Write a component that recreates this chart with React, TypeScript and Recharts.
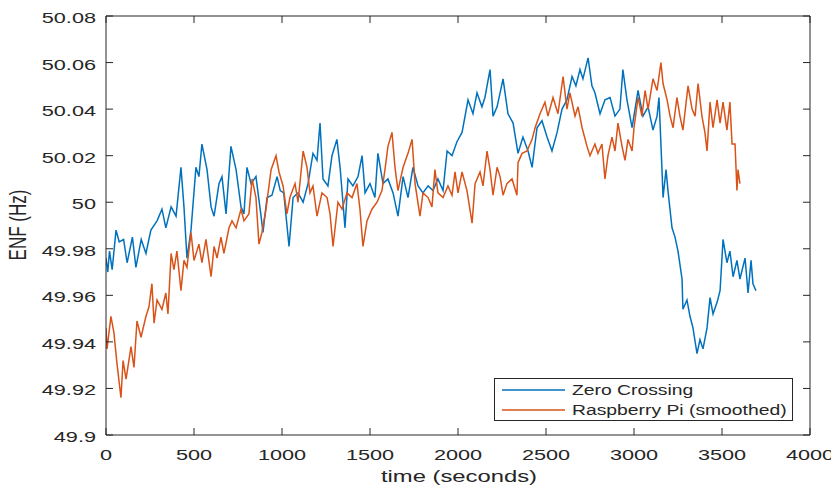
import React from "react";
import { LineChart, Line, XAxis, YAxis, Legend } from "recharts";

const zcTimes = [0, 10, 20, 35, 57, 75, 100, 120, 150, 170, 200, 227, 255, 290, 318, 340, 370, 398, 426, 443, 460, 483, 511, 528, 545, 574, 597, 614, 642, 659, 682, 710, 739, 767, 784, 801, 824, 852, 881, 892, 915, 943, 972, 990, 1010, 1040, 1063, 1091, 1120, 1148, 1176, 1199, 1216, 1233, 1261, 1284, 1312, 1330, 1358, 1375, 1403, 1432, 1455, 1472, 1500, 1528, 1545, 1574, 1602, 1631, 1659, 1688, 1716, 1744, 1773, 1801, 1830, 1858, 1886, 1915, 1938, 1966, 1994, 2023, 2057, 2085, 2108, 2136, 2153, 2182, 2199, 2222, 2256, 2284, 2313, 2341, 2369, 2398, 2421, 2449, 2477, 2506, 2534, 2563, 2591, 2619, 2648, 2670, 2693, 2710, 2739, 2761, 2778, 2807, 2835, 2864, 2892, 2920, 2937, 2960, 2989, 3023, 3051, 3080, 3108, 3131, 3142, 3159, 3165, 3182, 3193, 3216, 3233, 3250, 3273, 3278, 3301, 3318, 3335, 3358, 3375, 3392, 3415, 3432, 3449, 3472, 3489, 3506, 3528, 3545, 3563, 3585, 3602, 3631, 3648, 3665, 3676, 3693];
const zcValues = [49.976, 49.97, 49.979, 49.971, 49.988, 49.983, 49.984, 49.974, 49.985, 49.972, 49.984, 49.978, 49.988, 49.992, 49.997, 49.989, 49.998, 49.994, 50.015, 49.998, 49.976, 49.988, 50.015, 50.011, 50.025, 50.014, 49.998, 49.994, 50.008, 50.011, 49.995, 50.024, 50.014, 49.998, 49.995, 50.015, 50.008, 50.011, 49.994, 49.987, 50.002, 50.003, 50.011, 50.005, 50.004, 49.981, 50.002, 50.004, 50.0, 50.008, 50.021, 50.018, 50.034, 50.01, 50.007, 50.02, 50.027, 50.015, 49.989, 50.01, 50.007, 50.011, 50.02, 50.004, 50.008, 50.002, 50.021, 50.008, 50.01, 50.004, 49.994, 50.011, 50.002, 50.015, 50.007, 50.004, 50.007, 50.005, 50.01, 50.005, 50.022, 50.02, 50.026, 50.03, 50.044, 50.038, 50.047, 50.041, 50.045, 50.057, 50.037, 50.041, 50.053, 50.038, 50.034, 50.021, 50.028, 50.022, 50.015, 50.032, 50.035, 50.028, 50.022, 50.03, 50.04, 50.044, 50.054, 50.05, 50.057, 50.053, 50.062, 50.05, 50.047, 50.038, 50.044, 50.045, 50.037, 50.04, 50.057, 50.044, 50.032, 50.048, 50.037, 50.041, 50.031, 50.037, 50.045, 50.014, 50.002, 50.014, 50.005, 49.989, 49.985, 49.979, 49.967, 49.954, 49.958, 49.951, 49.946, 49.935, 49.941, 49.937, 49.946, 49.959, 49.952, 49.957, 49.962, 49.984, 49.974, 49.979, 49.968, 49.975, 49.967, 49.976, 49.961, 49.975, 49.965, 49.962];

const rpTimes = [0, 6, 28, 45, 62, 85, 97, 114, 142, 159, 176, 199, 227, 244, 261, 273, 290, 318, 340, 352, 370, 386, 403, 426, 443, 460, 483, 500, 528, 545, 568, 597, 614, 631, 653, 670, 699, 716, 739, 767, 784, 812, 830, 852, 869, 886, 909, 938, 966, 983, 1006, 1028, 1045, 1074, 1091, 1120, 1142, 1159, 1176, 1199, 1227, 1256, 1273, 1290, 1318, 1341, 1369, 1398, 1426, 1443, 1460, 1483, 1511, 1540, 1568, 1585, 1602, 1625, 1642, 1659, 1688, 1716, 1739, 1756, 1784, 1801, 1830, 1852, 1869, 1886, 1915, 1943, 1966, 1983, 2000, 2023, 2051, 2080, 2097, 2125, 2142, 2165, 2182, 2199, 2222, 2239, 2256, 2278, 2307, 2335, 2341, 2364, 2392, 2421, 2438, 2466, 2494, 2511, 2540, 2568, 2597, 2619, 2636, 2665, 2682, 2705, 2733, 2750, 2778, 2795, 2818, 2835, 2852, 2875, 2892, 2909, 2932, 2949, 2966, 2989, 3000, 3023, 3045, 3063, 3080, 3108, 3131, 3153, 3165, 3188, 3205, 3222, 3244, 3261, 3278, 3307, 3330, 3347, 3364, 3386, 3403, 3415, 3432, 3449, 3472, 3489, 3506, 3528, 3545, 3557, 3574, 3585, 3591, 3602];
const rpValues = [49.946, 49.937, 49.951, 49.944, 49.931, 49.916, 49.932, 49.924, 49.938, 49.929, 49.949, 49.942, 49.951, 49.955, 49.965, 49.948, 49.958, 49.954, 49.961, 49.952, 49.978, 49.971, 49.979, 49.962, 49.975, 49.972, 49.987, 49.975, 49.982, 49.974, 49.984, 49.968, 49.981, 49.976, 49.985, 49.978, 49.989, 49.992, 49.989, 49.997, 49.992, 49.995, 50.01, 50.002, 49.982, 49.987, 49.997, 50.014, 50.02, 50.013, 50.007, 49.995, 50.002, 50.008, 50.0, 50.022, 50.015, 50.004, 50.007, 49.994, 50.004, 50.002, 49.995, 49.981, 50.0, 49.997, 50.004, 50.002, 50.008, 49.997, 49.981, 49.992, 49.997, 50.0, 50.005, 50.014, 50.024, 50.03, 50.015, 50.005, 50.015, 50.021, 50.027, 50.008, 49.994, 50.004, 50.002, 49.998, 50.014, 50.004, 50.002, 50.007, 50.003, 50.013, 50.004, 50.013, 50.005, 49.991, 50.008, 50.013, 50.007, 50.022, 50.014, 50.003, 50.015, 50.011, 50.003, 50.008, 50.01, 50.003, 50.017, 50.021, 50.022, 50.027, 50.032, 50.038, 50.043, 50.037, 50.045, 50.038, 50.054, 50.04, 50.047, 50.037, 50.041, 50.032, 50.024, 50.02, 50.025, 50.021, 50.025, 50.01, 50.02, 50.028, 50.022, 50.034, 50.024, 50.018, 50.027, 50.022, 50.032, 50.045, 50.037, 50.048, 50.04, 50.053, 50.048, 50.06, 50.051, 50.044, 50.037, 50.032, 50.045, 50.037, 50.031, 50.05, 50.04, 50.037, 50.051, 50.037, 50.03, 50.022, 50.043, 50.032, 50.044, 50.034, 50.043, 50.031, 50.043, 50.025, 50.025, 50.005, 50.014, 50.008];

const xTicks = [0, 500, 1000, 1500, 2000, 2500, 3000, 3500, 4000];
const xTickLabels = ["0", "500", "1000", "1500", "2000", "2500", "3000", "3500", "4000"];
const yTicks = [49.9, 49.92, 49.94, 49.96, 49.98, 50, 50.02, 50.04, 50.06, 50.08];
const yTickLabels = ["49.9", "49.92", "49.94", "49.96", "49.98", "50", "50.02", "50.04", "50.06", "50.08"];

const seriesNames = ["Zero Crossing", "Raspberry Pi (smoothed)"];
const seriesColors = ["#0072BD", "#D95319"];

const zcData = zcTimes.map((t, i) => ({ t, v: zcValues[i] }));
const rpData = rpTimes.map((t, i) => ({ t, v: rpValues[i] }));

const FONT = "'Liberation Sans', Arial, sans-serif";
const AX = "#262626";
const SX = 1.4;

const XTick = (props: any) => {
  const { x, y, payload } = props;
  const idx = xTicks.indexOf(payload.value);
  return (
    <g>
      <line x1={x} x2={x} y1={y} y2={y - 7} stroke={AX} strokeWidth={1} />
      <text
        transform={`translate(${x},${y + 24.5}) scale(${SX},1)`}
        textAnchor="middle"
        fontSize={15.5}
        fontFamily={FONT}
        fill={AX}
      >
        {idx >= 0 ? xTickLabels[idx] : payload.value}
      </text>
    </g>
  );
};

const YTick = (props: any) => {
  const { x, y, payload } = props;
  const idx = yTicks.findIndex((v) => Math.abs(v - payload.value) < 1e-6);
  return (
    <g>
      <line x1={x} x2={x + 7} y1={y} y2={y} stroke={AX} strokeWidth={1} />
      <text
        transform={`translate(${x - 10},${y + 7}) scale(${SX},1)`}
        textAnchor="end"
        fontSize={15.5}
        fontFamily={FONT}
        fill={AX}
      >
        {idx >= 0 ? yTickLabels[idx] : payload.value}
      </text>
    </g>
  );
};

const TopTick = (props: any) => {
  const { x, y } = props;
  return <line x1={x} x2={x} y1={y} y2={y + 7} stroke={AX} strokeWidth={1} />;
};

const RightTick = (props: any) => {
  const { x, y } = props;
  return <line x1={x} x2={x - 7} y1={y} y2={y} stroke={AX} strokeWidth={1} />;
};

const renderLegend = (props: any) => {
  const payload = props.payload || [];
  const ordered = seriesNames.map((n, i) => {
    const p = payload.find((q: any) => q.value === n);
    return { value: n, color: p ? p.color : seriesColors[i] };
  });
  return (
    <svg width={299} height={43} style={{ display: "block" }}>
      <rect x={0.5} y={0.5} width={298} height={42} fill="#ffffff" stroke={AX} strokeWidth={1} />
      {ordered.map((p: any, i: number) => (
        <g key={i}>
          <line x1={8} x2={71} y1={12 + i * 20} y2={12 + i * 20} stroke={p.color} strokeWidth={1.5} />
          <text
            transform={`translate(78,${17 + i * 20}) scale(1.38,1)`}
            fontSize={14}
            fontFamily={FONT}
            fill={AX}
          >
            {p.value}
          </text>
        </g>
      ))}
    </svg>
  );
};

export default function App() {
  return (
    <div style={{ position: "relative", width: 831, height: 485 }}>
      <LineChart width={831} height={485} margin={{ top: 7, right: 28, bottom: 28, left: 8 }}>
        <XAxis
          xAxisId="b"
          dataKey="t"
          type="number"
          domain={[0, 4000]}
          ticks={xTicks}
          allowDataOverflow
          height={30}
          tickSize={0}
          tickMargin={0}
          tickLine={false}
          axisLine={{ stroke: AX, strokeWidth: 1 }}
          tick={<XTick />}
          interval={0}
        />
        <XAxis
          xAxisId="top"
          orientation="top"
          dataKey="t"
          type="number"
          domain={[0, 4000]}
          ticks={xTicks}
          allowDataOverflow
          height={1}
          tickSize={0}
          tickMargin={0}
          tickLine={false}
          axisLine={{ stroke: AX, strokeWidth: 1 }}
          tick={<TopTick />}
          interval={0}
        />
        <YAxis
          yAxisId="l"
          type="number"
          domain={[49.9, 50.08]}
          ticks={yTicks}
          allowDataOverflow
          width={90}
          tickSize={0}
          tickMargin={0}
          tickLine={false}
          axisLine={{ stroke: AX, strokeWidth: 1 }}
          tick={<YTick />}
          interval={0}
        />
        <YAxis
          yAxisId="r"
          orientation="right"
          type="number"
          domain={[49.9, 50.08]}
          ticks={yTicks}
          allowDataOverflow
          width={1}
          tickSize={0}
          tickMargin={0}
          tickLine={false}
          axisLine={{ stroke: AX, strokeWidth: 1 }}
          tick={<RightTick />}
          interval={0}
        />
        <Legend
          layout="horizontal"
          verticalAlign="middle"
          align="center"
          content={renderLegend}
          wrapperStyle={{ left: 486, top: 370, width: 299, height: 43 }}
        />
        <Line
          xAxisId="b"
          yAxisId="l"
          data={zcData}
          dataKey="v"
          name={seriesNames[0]}
          type="linear"
          stroke={seriesColors[0]}
          strokeWidth={1.5}
          dot={false}
          isAnimationActive={false}
        />
        <Line
          xAxisId="b"
          yAxisId="l"
          data={rpData}
          dataKey="v"
          name={seriesNames[1]}
          type="linear"
          stroke={seriesColors[1]}
          strokeWidth={1.5}
          dot={false}
          isAnimationActive={false}
        />
        <Line
          xAxisId="top"
          yAxisId="r"
          data={rpData}
          dataKey="v"
          name="box-helper"
          legendType="none"
          stroke="none"
          strokeWidth={0}
          strokeOpacity={0}
          dot={false}
          activeDot={false}
          isAnimationActive={false}
        />
      </LineChart>
      <div
        style={{
          position: "absolute",
          left: 451,
          top: 459,
          transform: "translate(-50%,0) scaleX(1.4)",
          fontFamily: FONT,
          fontSize: 17,
          color: AX,
          whiteSpace: "nowrap",
          lineHeight: "20px",
        }}
      >
        time (seconds)
      </div>
      <div
        style={{
          position: "absolute",
          left: 11,
          top: 217,
          transform: "translate(-50%,-50%) rotate(-90deg) scaleY(1.4)",
          fontFamily: FONT,
          fontSize: 17,
          color: AX,
          whiteSpace: "nowrap",
          lineHeight: "20px",
        }}
      >
        ENF (Hz)
      </div>
    </div>
  );
}
